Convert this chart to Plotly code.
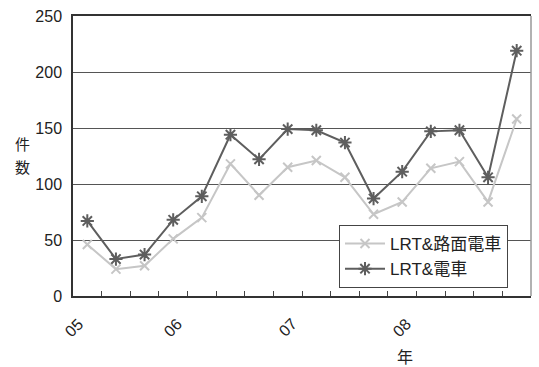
import plotly.graph_objects as go

# Quarterly counts, 2005 Q1 - 2008 Q4
quarters = list(range(16))
lrt_road = [46, 24, 27, 51, 70, 118, 90, 115, 121, 106, 73, 84, 114, 120, 84, 158]
lrt_train = [67, 33, 37, 68, 89, 144, 122, 149, 148, 137, 87, 111, 147, 148, 106, 219]
year_labels = ["05", "06", "07", "08"]
year_label_pos = [-0.45, 3, 7, 11]

FONT = "Liberation Sans, Arial, Noto Sans CJK JP, sans-serif"
CJK = "Noto Sans CJK JP, sans-serif"

fig = go.Figure()
fig.add_trace(go.Scatter(
    x=quarters, y=lrt_road, name="LRT&路面電車", mode="lines+markers",
    line=dict(color="#c6c6c6", width=2),
    marker=dict(symbol="x-thin-open", size=9, line=dict(color="#c6c6c6", width=2)),
))
fig.add_trace(go.Scatter(
    x=quarters, y=lrt_train, name="LRT&電車", mode="lines+markers",
    line=dict(color="#5e5e5e", width=2),
    marker=dict(symbol="asterisk-open", size=11, line=dict(color="#5e5e5e", width=2)),
))

# boundaries between quarters carry the small tick marks
boundaries = [i - 0.5 for i in range(17)]

PLOT_L, PLOT_R, PLOT_T, PLOT_B = 73, 531, 12, 296
W = PLOT_R - PLOT_L
H = PLOT_B - PLOT_T


def px_x(px):
    return (px - PLOT_L) / W


def px_y(py):
    return (PLOT_B - py) / H


fig.update_layout(
    width=539, height=367,
    margin=dict(l=PLOT_L, r=539 - PLOT_R, t=PLOT_T, b=367 - PLOT_B),
    paper_bgcolor="white", plot_bgcolor="white",
    font=dict(family=FONT, size=15, color="#222"),
    showlegend=True,
    legend=dict(
        x=px_x(339), y=px_y(224), xanchor="left", yanchor="top",
        bgcolor="white", bordercolor="#444", borderwidth=1,
        font=dict(family=FONT, size=17, color="#222"),
        tracegroupgap=0, itemwidth=40,
    ),
    xaxis=dict(
        range=[-0.5, 15.5], tickmode="array", tickvals=boundaries,
        showticklabels=False, ticks="inside", ticklen=5, tickcolor="#444",
        showgrid=False, zeroline=False,
        showline=True, linecolor="#333", linewidth=1.5, mirror=True,
    ),
    yaxis=dict(
        range=[0, 250], dtick=50, ticks="", showgrid=True,
        gridcolor="#555", gridwidth=1, zeroline=False,
        showline=True, linecolor="#333", linewidth=1.5,
        tickfont=dict(family=FONT, size=16, color="#222"),
        ticklabelstandoff=6,
    ),
)

# right frame edge in lighter grey
fig.add_shape(type="line", xref="paper", yref="paper", x0=1, x1=1, y0=0, y1=1,
              line=dict(color="#999", width=1.5))

# rotated year labels under the axis
for lab, pos in zip(year_labels, year_label_pos):
    fig.add_annotation(x=pos, y=px_y(328), xref="x", yref="paper", text=lab,
                       textangle=-45, showarrow=False,
                       xanchor="center", yanchor="middle",
                       font=dict(family=FONT, size=16, color="#222"))

fig.add_annotation(x=px_x(405), y=px_y(357), xref="paper", yref="paper", text="年",
                   showarrow=False, xanchor="center", yanchor="middle",
                   font=dict(family=CJK, size=16, color="#222"))

# vertical y-axis title, one character per line
for ch, py in zip("件数", (141, 165)):
    fig.add_annotation(x=px_x(22), y=px_y(py), xref="paper", yref="paper", text=ch,
                       showarrow=False, xanchor="center", yanchor="middle",
                       font=dict(family=CJK, size=15, color="#222"))

fig.write_html("out.html")
